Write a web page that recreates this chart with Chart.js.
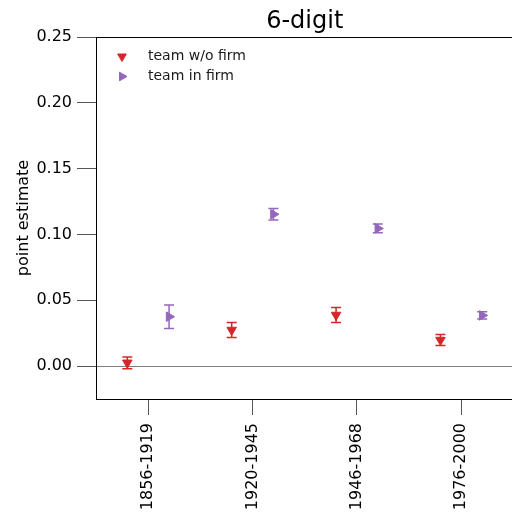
<!DOCTYPE html>
<html>
<head>
<meta charset="utf-8">
<title>6-digit</title>
<script src="https://cdn.jsdelivr.net/npm/chart.js@4.4.1/dist/chart.umd.min.js"></script>
<style>
  html, body { margin: 0; padding: 0; background: #fff; overflow: hidden; }
  #wrap { position: relative; width: 520px; height: 518px; }
</style>
</head>
<body>
<div id="wrap"><canvas id="chart" width="520" height="518"></canvas></div>
<script>
// periods on the x axis
const PERIODS = ["1856-1919", "1920-1945", "1946-1968", "1976-2000"];

// point estimates and half-width of the error bars
const WO_FIRM = [0.0025, 0.0274, 0.0388, 0.0198];
const WO_FIRM_ERR = [0.0045, 0.0057, 0.0057, 0.0042];
const IN_FIRM = [0.0375, 0.1153, 0.1046, 0.0385];
const IN_FIRM_ERR = [0.0089, 0.0044, 0.0033, 0.0028];

const Y_TICKS = [0, 0.05, 0.10, 0.15, 0.20, 0.25];
const DODGE = 0.2; // horizontal shift of each series around the period

const FONT = "'DejaVu Sans', sans-serif";
const RED = "#d62728";
const PURPLE = "#9467bd";

function points(values, shift) {
  return values.map((v, i) => ({ x: i + shift, y: v }));
}

// vertical error bars with caps, drawn under the markers
const errorBars = {
  id: "errorBars",
  beforeDatasetsDraw(chart) {
    const ctx = chart.ctx;
    const yScale = chart.scales.y;
    chart.data.datasets.forEach((ds, di) => {
      const meta = chart.getDatasetMeta(di);
      ctx.save();
      ctx.strokeStyle = ds.borderColor;
      ctx.lineWidth = 1.5;
      meta.data.forEach((pt, i) => {
        const v = ds.data[i].y;
        const e = ds.errors[i];
        const top = yScale.getPixelForValue(v + e);
        const bot = yScale.getPixelForValue(v - e);
        ctx.beginPath();
        ctx.moveTo(pt.x, top);
        ctx.lineTo(pt.x, bot);
        ctx.moveTo(pt.x - 5, top);
        ctx.lineTo(pt.x + 5, top);
        ctx.moveTo(pt.x - 5, bot);
        ctx.lineTo(pt.x + 5, bot);
        ctx.stroke();
      });
      ctx.restore();
    });
  }
};

// title centred over the plot area + legend inside the top-left corner
const decorations = {
  id: "decorations",
  afterDraw(chart) {
    const ctx = chart.ctx;
    const area = chart.chartArea;
    ctx.save();
    ctx.fillStyle = "#000";
    ctx.font = "24px " + FONT;
    ctx.textAlign = "center";
    ctx.textBaseline = "alphabetic";
    ctx.fillText("6-digit", (area.left + area.right) / 2, 28);

    ctx.font = "14px " + FONT;
    ctx.textAlign = "left";
    ctx.textBaseline = "middle";
    chart.data.datasets.forEach((ds, i) => {
      const y = area.top + 19.5 + i * 20;
      ctx.fillStyle = ds.backgroundColor;
      ctx.strokeStyle = ds.borderColor;
      ctx.lineWidth = 1;
      Chart.helpers.drawPoint(ctx, {
        pointStyle: "triangle",
        radius: 5,
        rotation: ds.pointRotation,
        borderWidth: 1
      }, area.left + 26, y);
      ctx.fillStyle = "#1a1a1a";
      ctx.fillText(ds.label, area.left + 52, y);
    });
    ctx.restore();
  }
};

new Chart(document.getElementById("chart"), {
  type: "scatter",
  data: {
    datasets: [
      {
        label: "team w/o firm",
        data: points(WO_FIRM, -DODGE),
        errors: WO_FIRM_ERR,
        pointStyle: "triangle",
        pointRotation: 180,
        pointRadius: 5.5,
        borderWidth: 1,
        backgroundColor: RED,
        borderColor: RED
      },
      {
        label: "team in firm",
        data: points(IN_FIRM, DODGE),
        errors: IN_FIRM_ERR,
        pointStyle: "triangle",
        pointRotation: 90,
        pointRadius: 5.5,
        borderWidth: 1,
        backgroundColor: PURPLE,
        borderColor: PURPLE
      }
    ]
  },
  options: {
    responsive: false,
    animation: false,
    layout: { padding: { top: 37, right: 6, left: 0, bottom: 0 } },
    plugins: {
      legend: { display: false },
      tooltip: { enabled: false }
    },
    scales: {
      x: {
        type: "linear",
        position: "bottom",
        min: -0.5,
        max: 3.5,
        afterBuildTicks: (s) => { s.ticks = PERIODS.map((_, i) => ({ value: i })); },
        afterFit: (s) => { s.height = 119; },
        ticks: {
          callback: (v) => PERIODS[v],
          minRotation: 90,
          maxRotation: 90,
          autoSkip: false,
          padding: 8,
          color: "#000",
          font: { family: FONT, size: 16 }
        },
        grid: { drawOnChartArea: false, tickLength: 16, tickColor: "#555", tickWidth: 1 },
        border: { color: "#000", width: 1 }
      },
      top: {
        type: "linear",
        position: "top",
        min: -0.5,
        max: 3.5,
        afterFit: (s) => { s.height = 0; },
        ticks: { display: false },
        grid: { drawOnChartArea: false, drawTicks: false },
        border: { color: "#000", width: 1 }
      },
      y: {
        min: -0.025,
        max: 0.25,
        afterBuildTicks: (s) => { s.ticks = Y_TICKS.map((v) => ({ value: v })); },
        afterFit: (s) => { s.width = 96; },
        ticks: {
          callback: (v) => v.toFixed(2),
          padding: 5,
          color: "#000",
          font: { family: FONT, size: 16 }
        },
        grid: {
          color: (c) => (c.tick && c.tick.value === 0 ? "#808080" : "transparent"),
          lineWidth: 1,
          tickLength: 19,
          tickColor: "#555",
          tickWidth: 1
        },
        border: { color: "#000", width: 1 },
        title: {
          display: true,
          text: "point estimate",
          color: "#000",
          font: { family: FONT, size: 16 },
          padding: { top: 14, bottom: 4 }
        }
      }
    }
  },
  plugins: [errorBars, decorations]
});
</script>
</body>
</html>
